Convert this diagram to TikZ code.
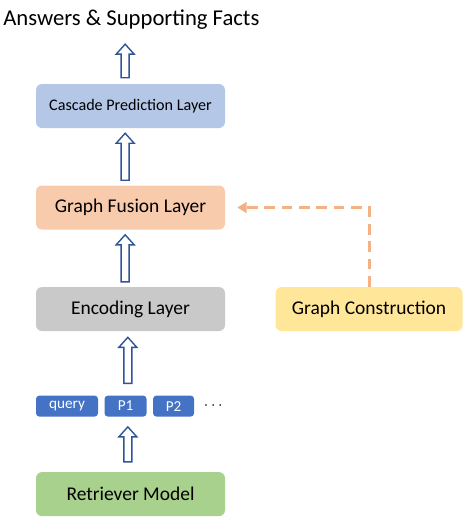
\documentclass[tikz,border=0pt]{standalone}
\usepackage{fontspec}
\setmainfont{Carlito}
\usetikzlibrary{arrows.meta, positioning, calc}

\definecolor{cascblue}{HTML}{B4C7E7}
\definecolor{fusionorange}{HTML}{F8CBAD}
\definecolor{encgray}{HTML}{C9C9C9}
\definecolor{gcyellow}{HTML}{FFE699}
\definecolor{retgreen}{HTML}{A9D18E}
\definecolor{tokblue}{HTML}{4472C4}
\definecolor{arrowblue}{HTML}{2F5597}
\definecolor{dashorange}{HTML}{F4B183}

\begin{document}
\begin{tikzpicture}[
  x=0.75pt, y=-0.75pt,
  node distance=42.75pt and 37.5pt,
  layer/.style={rectangle, rounded corners=4.5pt, minimum width=141.75pt,
                minimum height=33pt, align=center, inner sep=2pt,
                font=\fontsize{14.6}{17}\selectfont},
  tok/.style={rectangle, rounded corners=2.5pt, fill=tokblue, text=white,
              minimum height=15.75pt, inner sep=0pt,
              font=\fontsize{11.4}{13}\selectfont},
  % hollow block arrow, pointing up, x taken from the start point
  hollow/.style={draw=arrowblue, line width=1.05pt, fill=white, line join=miter,
    to path={let \p1=(\tikztostart), \p2=(\tikztotarget) in
      (\x1-3pt,\y1) -- (\x1-3pt,\y2-7.5pt) -- (\x1-6.75pt,\y2-7.5pt)
      -- (\x1,\y2) -- (\x1+6.75pt,\y2-7.5pt) -- (\x1+3pt,\y2-7.5pt)
      -- (\x1+3pt,\y1) -- cycle}},
  dasharrow/.style={draw=dashorange, line width=2.2pt,
                    dash pattern=on 8pt off 5pt,
                    -{Triangle[length=7pt, width=8pt]}}
]
\useasboundingbox (0,0) rectangle (467,519);

% title
\node[anchor=base west, inner sep=0pt, font=\fontsize{17}{20}\selectfont]
  (ans) at (3,25) {Answers \& Supporting Facts};

% layers
\node[layer, fill=cascblue, font=\fontsize{12.1}{14}\selectfont]
  (casc) at (130.5,106) {Cascade Prediction Layer};
\node[layer, fill=fusionorange, below=of casc] (fus) {Graph Fusion Layer};
\node[layer, fill=encgray, below=of fus] (enc) {Encoding Layer};
\node[layer, fill=gcyellow, right=of enc, minimum width=140.25pt] (gc) {Graph Construction};

% input tokens
\node[tok, minimum width=46.5pt, below right=48pt and 0pt of enc.south west] (q) {query};
\node[tok, minimum width=31.5pt, right=4.5pt of q] (p1) {P1};
\node[tok, minimum width=30.75pt, right=4.5pt of p1] (p2) {P2};
\node[right=7pt of p2, inner sep=0pt, font=\fontsize{13}{15}\selectfont] (dots) {$\cdots$};

\node[layer, fill=retgreen, below left=41.25pt and 0pt of q.south west, anchor=north west] (ret) {Retriever Model};

% flow
\draw[hollow] ([xshift=-4pt, yshift=4.5pt]casc.north) to ([yshift=-11.25pt]ans.south);
\draw[hollow] ([xshift=-4pt, yshift=3.75pt]fus.north) to ([yshift=-3.75pt]casc.south);
\draw[hollow] ([xshift=-4pt, yshift=3.75pt]enc.north) to ([yshift=-3.75pt]fus.south);
\draw[hollow] ([xshift=-2pt, yshift=9pt]enc.south |- q.north) to ([yshift=-4.5pt]enc.south);
\draw[hollow] ([xshift=-2pt, yshift=7.5pt]ret.north) to ([yshift=-7.5pt]ret.north |- q.south);

\draw[dasharrow, shorten >=9pt] (gc.north) |- (fus.east);

\end{tikzpicture}
\end{document}
